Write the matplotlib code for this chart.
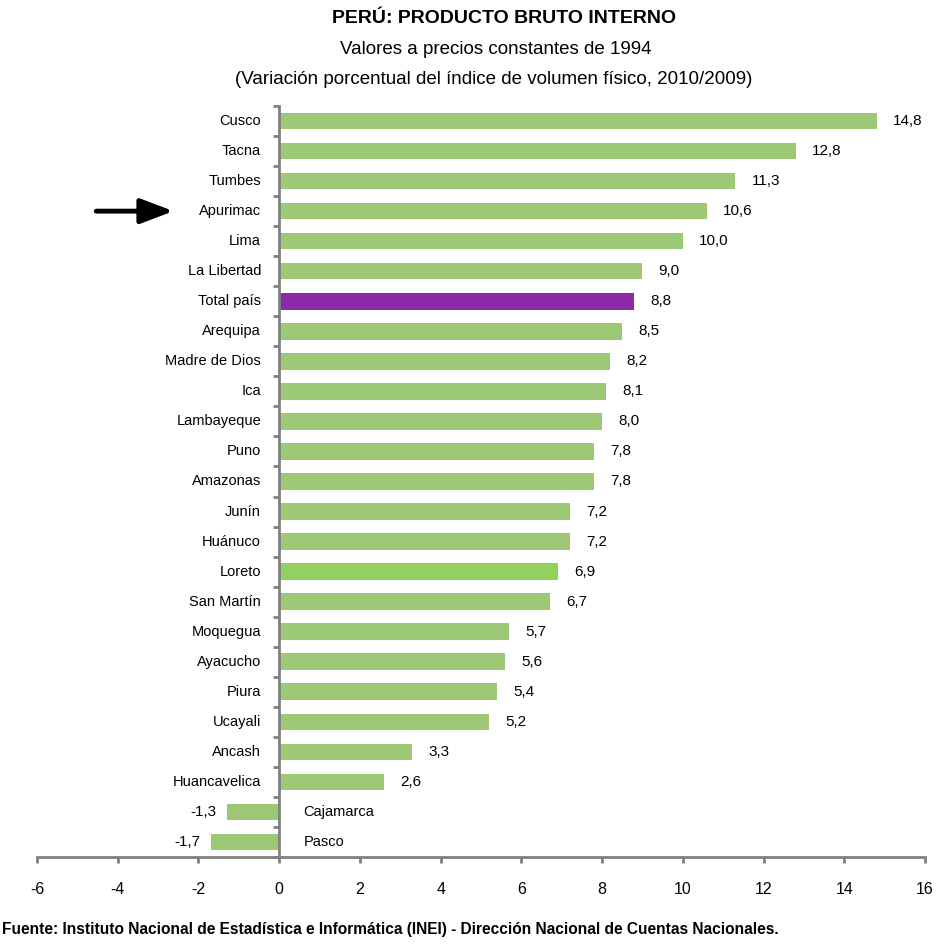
import numpy as np
import matplotlib
matplotlib.use("Agg")
import matplotlib.pyplot as plt

plt.rcParams['font.family'] = ['Liberation Sans', 'DejaVu Sans']

regions = ["Cusco", "Tacna", "Tumbes", "Apurimac", "Lima", "La Libertad", "Total país",
           "Arequipa", "Madre de Dios", "Ica", "Lambayeque", "Puno", "Amazonas", "Junín",
           "Huánuco", "Loreto", "San Martín", "Moquegua", "Ayacucho", "Piura", "Ucayali",
           "Ancash", "Huancavelica", "Cajamarca", "Pasco"]
variacion = [14.8, 12.8, 11.3, 10.6, 10.0, 9.0, 8.8, 8.5, 8.2, 8.1, 8.0, 7.8, 7.8, 7.2,
             7.2, 6.9, 6.7, 5.7, 5.6, 5.4, 5.2, 3.3, 2.6, -1.3, -1.7]
x_ticks = [-6, -4, -2, 0, 2, 4, 6, 8, 10, 12, 14, 16]

GREEN = '#9DC977'
colors = []
for r in regions:
    if r == "Total país":
        colors.append('#8A2BA8')
    elif r == "Loreto":
        colors.append('#92D060')
    else:
        colors.append(GREEN)

fig = plt.figure(figsize=(9.38, 9.44), dpi=100)
ax = fig.add_axes([0.0394, 0.0922, 0.9468, 0.7955])

y = np.arange(len(regions))
ax.barh(y, variacion, height=0.55, color=colors, zorder=2)
ax.set_ylim(len(regions) - 0.5, -0.5)
ax.set_xlim(-6, 16)

# spines
for s in ['top', 'right']:
    ax.spines[s].set_visible(False)
ax.spines['left'].set_position(('data', 0))
ax.spines['left'].set_color('#808080')
ax.spines['left'].set_linewidth(2)
ax.spines['bottom'].set_color('#808080')
ax.spines['bottom'].set_linewidth(2)

ax.set_xticks(x_ticks)
ax.set_xticklabels([str(t) for t in x_ticks], fontsize=11.5)
ax.tick_params(axis='x', direction='out', length=4, width=2, color='#808080', pad=14)
ax.set_yticks(np.arange(len(regions) + 1) - 0.5)
ax.set_yticklabels([])
ax.tick_params(axis='y', direction='out', length=4, width=2, color='#808080')

# category labels
for i, (r, v) in enumerate(zip(regions, variacion)):
    if v >= 0:
        ax.text(-0.45, i, r, ha='right', va='center', fontsize=10.5)
        ax.text(v + 0.4, i, f"{v:.1f}".replace('.', ','), ha='left', va='center', fontsize=11)
    else:
        ax.text(0.6, i, r, ha='left', va='center', fontsize=10.5)
        ax.text(v - 0.25, i, f"{v:.1f}".replace('.', ','), ha='right', va='center', fontsize=11)

# arrow pointing at Apurimac
ax.annotate('', xy=(-2.55, 3), xytext=(-4.6, 3),
            arrowprops=dict(arrowstyle='-|>,head_width=0.38,head_length=1.0',
                            color='black', lw=3.5, mutation_scale=20),
            annotation_clip=False)

fig.text(0.537, 0.980, "PERÚ: PRODUCTO BRUTO INTERNO", ha='center', va='center',
         fontsize=14, fontweight='bold')
fig.text(0.528, 0.948, "Valores a precios constantes de 1994", ha='center', va='center',
         fontsize=13.5)
fig.text(0.526, 0.916, "(Variación porcentual del índice de volumen físico, 2010/2009)",
         ha='center', va='center', fontsize=13.5)
fig.text(0.002, 0.015, "Fuente: Instituto Nacional de Estadística e Informática (INEI) - "
         "Dirección Nacional de Cuentas Nacionales.", ha='left', va='center',
         fontsize=11.2, fontweight='bold')

fig.savefig("out.png", dpi=100, facecolor='white')
